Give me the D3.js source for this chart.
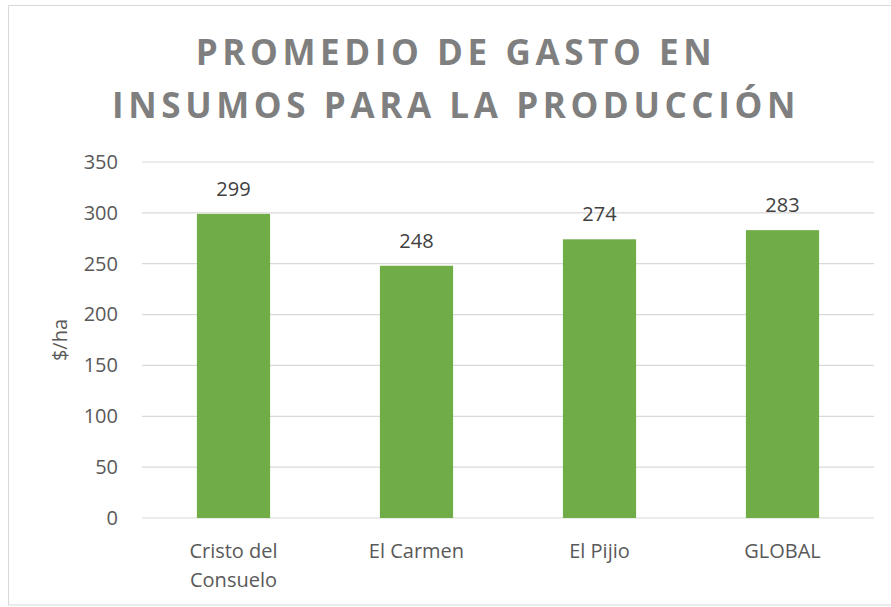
<!DOCTYPE html>
<html>
<head>
<meta charset="utf-8">
<script src="https://cdn.jsdelivr.net/npm/d3@7"></script>
<style>
  body { margin: 0; background: #fff; }
  text { font-family: "Open Sans", sans-serif; }
</style>
</head>
<body>
<script>
// datos del grafico
var categorias = [["Cristo del", "Consuelo"], ["El Carmen"], ["El Pijio"], ["GLOBAL"]];
var gasto = [299, 248, 274, 283];
var ticks = [0, 50, 100, 150, 200, 250, 300, 350];
var titulo = ["PROMEDIO DE GASTO EN", "INSUMOS PARA LA PRODUCCIÓN"];

var width = 891, height = 607;
var margin = {top: 162, right: 17, bottom: 89, left: 142};

var svg = d3.select("body").append("svg")
    .attr("width", width)
    .attr("height", height);

// borde del grafico
svg.append("rect")
    .attr("x", 8.5).attr("y", 5.5)
    .attr("width", 890).attr("height", 599.5)
    .attr("fill", "#fff")
    .attr("stroke", "#d9d9d9");

var g = svg.append("g")
    .attr("transform", "translate(" + margin.left + "," + margin.top + ")");

var w = width - margin.left - margin.right,
    h = height - margin.top - margin.bottom;

var x = d3.scaleBand()
    .domain(d3.range(gasto.length))
    .range([0, w])
    .paddingInner(0.6)
    .paddingOuter(0.3);

var y = d3.scaleLinear()
    .domain([0, 350])
    .range([h, 0]);

// lineas de cuadricula
g.selectAll(".grid")
    .data(ticks)
  .enter().append("line")
    .attr("x1", 0).attr("x2", w)
    .attr("y1", function(d) { return y(d); })
    .attr("y2", function(d) { return y(d); })
    .attr("stroke", "#d9d9d9")
    .attr("stroke-width", 1.2);

// eje y
var yAxis = g.append("g")
    .call(d3.axisLeft(y).tickValues(ticks).tickSize(0).tickPadding(24));
yAxis.select(".domain").remove();
yAxis.selectAll("text")
    .style("font-family", "Open Sans, sans-serif")
    .style("font-size", "20px")
    .attr("fill", "#595959");

// barras
g.selectAll(".bar")
    .data(gasto)
  .enter().append("rect")
    .attr("class", "bar")
    .attr("x", function(d, i) { return x(i); })
    .attr("width", x.bandwidth())
    .attr("y", function(d) { return y(d); })
    .attr("height", function(d) { return h - y(d); })
    .attr("fill", "#70ad47");

// etiquetas de valor
g.selectAll(".label")
    .data(gasto)
  .enter().append("text")
    .attr("x", function(d, i) { return x(i) + x.bandwidth() / 2; })
    .attr("y", function(d) { return y(d) - 18; })
    .attr("text-anchor", "middle")
    .style("font-size", "20px")
    .attr("fill", "#404040")
    .text(function(d) { return d; });

// etiquetas de categoria
var cat = g.selectAll(".cat")
    .data(categorias)
  .enter().append("text")
    .attr("text-anchor", "middle")
    .attr("x", function(d, i) { return x(i) + x.bandwidth() / 2; })
    .attr("y", h + 40)
    .style("font-size", "20px")
    .attr("fill", "#595959");
cat.selectAll("tspan")
    .data(function(d) { return d; })
  .enter().append("tspan")
    .attr("x", function() { return d3.select(this.parentNode).attr("x"); })
    .attr("dy", function(d, i) { return i ? 29 : 0; })
    .text(function(d) { return d; });

// titulo eje y
svg.append("text")
    .attr("transform", "translate(67," + (margin.top + h / 2) + ") rotate(-90)")
    .attr("text-anchor", "middle")
    .style("font-size", "20px")
    .attr("fill", "#595959")
    .text("$/ha");

// titulo
svg.selectAll(".title")
    .data(titulo)
  .enter().append("text")
    .attr("x", 456)
    .attr("y", function(d, i) { return 65 + i * 53; })
    .attr("text-anchor", "middle")
    .style("font-size", "35px")
    .style("font-weight", "bold")
    .style("letter-spacing", "4.6px")
    .attr("fill", "#7f7f7f")
    .text(function(d) { return d; });
</script>
</body>
</html>
